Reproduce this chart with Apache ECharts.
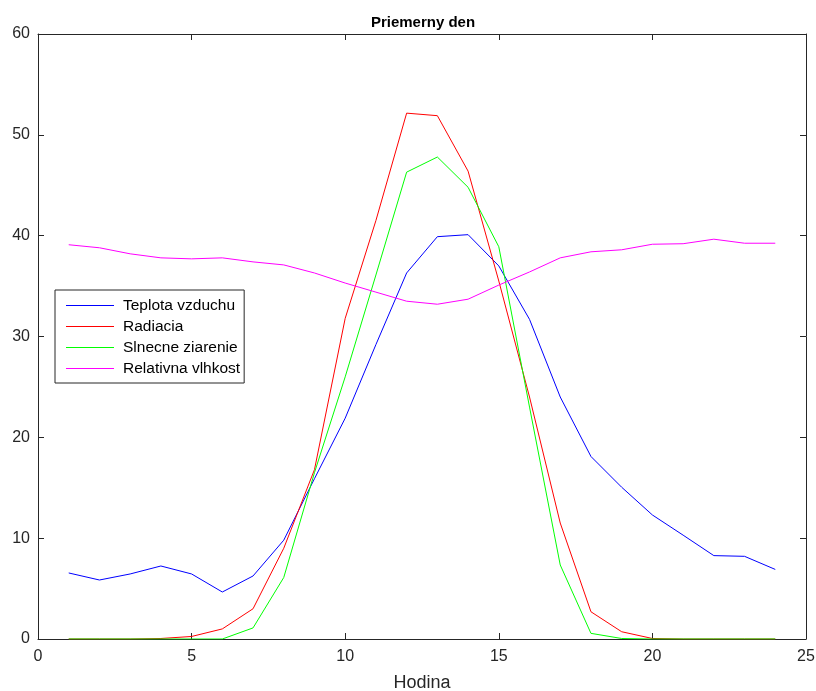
<!DOCTYPE html>
<html>
<head>
<meta charset="utf-8">
<script src="https://cdn.jsdelivr.net/npm/echarts@6/dist/echarts.min.js"></script>
<style>
  html, body { margin: 0; padding: 0; background: #fff; }
  #chart { width: 816px; height: 691px; }
</style>
</head>
<body>
<div id="chart"></div>
<script>
// hodiny 1..24
const hours = [1, 2, 3, 4, 5, 6, 7, 8, 9, 10, 11, 12, 13, 14, 15, 16, 17, 18, 19, 20, 21, 22, 23, 24]
const teplota = [6.55, 5.85, 6.45, 7.24, 6.45, 4.66, 6.25, 9.8, 15.9, 21.9, 29.2, 36.3, 39.9, 40.1, 37.0, 31.7, 24.0, 18.1, 15.05, 12.3, 10.3, 8.27, 8.2, 6.9]
const radiacia = [0, 0, 0, 0.05, 0.25, 1.0, 3.0, 9.0, 16.8, 31.8, 41.5, 52.15, 51.9, 46.4, 35.5, 24.0, 11.5, 2.7, 0.72, 0.05, 0, 0, 0, 0]
const ziarenie = [0, 0, 0, 0, 0, 0, 1.1, 6.1, 16.5, 26.0, 36.1, 46.3, 47.8, 44.8, 38.9, 23.0, 7.34, 0.56, 0.05, 0, 0, 0, 0, 0]
const vlhkost = [39.1, 38.8, 38.2, 37.8, 37.7, 37.8, 37.4, 37.1, 36.3, 35.3, 34.4, 33.5, 33.2, 33.7, 35.1, 36.4, 37.8, 38.4, 38.6, 39.15, 39.2, 39.65, 39.25, 39.25]

const names = ['Teplota vzduchu', 'Radiacia', 'Slnecne ziarenie', 'Relativna vlhkost']
const colors = ['#0000ff', '#ff0000', '#00ff00', '#ff00ff']
const values = [teplota, radiacia, ziarenie, vlhkost]

const font = 'Liberation Sans, Arial, sans-serif'
const axisColor = '#262626'

const chart = echarts.init(document.getElementById('chart'))

const baseAxis = {
	axisLine: { show: true, onZero: false, lineStyle: { color: axisColor, width: 1 } },
	axisTick: { show: true, inside: true, length: 6, lineStyle: { color: axisColor } },
	splitLine: { show: false },
}

const option = {
	animation: false,
	backgroundColor: '#fff',
	title: {
		text: 'Priemerny den',
		left: 418,
		textAlign: 'center',
		top: 10,
		textStyle: { fontFamily: font, fontSize: 15, fontWeight: 'bold', color: '#000' },
	},
	grid: { left: 38, right: 10, top: 34, bottom: 52, outerBoundsMode: 'none' },
	legend: {
		orient: 'vertical',
		left: 55,
		top: 290,
		padding: [5, 4, 4, 11],
		icon: 'rect',
		itemWidth: 48,
		itemHeight: 1,
		itemGap: 0,
		borderColor: axisColor,
		borderWidth: 1,
		borderRadius: 0,
		backgroundColor: '#fff',
		textStyle: { fontFamily: font, fontSize: 15.5, lineHeight: 21, color: '#000', padding: [0, 0, 0, 4] },
		data: names,
	},
	xAxis: [
		{
			...baseAxis,
			type: 'value',
			min: 0,
			max: 25,
			interval: 5,
			name: 'Hodina',
			nameLocation: 'middle',
			nameGap: 35,
			nameTextStyle: { fontFamily: font, fontSize: 18, color: axisColor },
			axisLabel: { fontFamily: font, fontSize: 16, color: axisColor, margin: 10 },
		},
		{
			...baseAxis,
			type: 'value',
			position: 'top',
			min: 0,
			max: 25,
			interval: 5,
			axisLabel: { show: false },
		},
	],
	yAxis: [
		{
			...baseAxis,
			type: 'value',
			min: 0,
			max: 60,
			interval: 10,
			axisLabel: { fontFamily: font, fontSize: 16, color: axisColor, margin: 8 },
		},
		{
			...baseAxis,
			type: 'value',
			position: 'right',
			min: 0,
			max: 60,
			interval: 10,
			axisLabel: { show: false },
		},
	],
	series: names.map((n, i) => ({
		name: n,
		type: 'line',
		symbol: 'none',
		lineStyle: { color: colors[i], width: 1 },
		itemStyle: { color: colors[i] },
		data: hours.map((h, k) => [h, values[i][k]]),
	})),
}

chart.setOption(option)
</script>
</body>
</html>
